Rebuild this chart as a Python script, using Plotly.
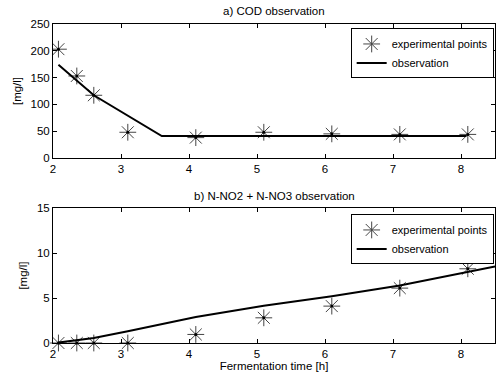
import plotly.graph_objects as go

# a) COD observation
cod_t = [2.08, 2.35, 2.6, 3.1, 4.1, 5.1, 6.1, 7.1, 8.1]
cod_exp = [203, 153, 117, 48, 38, 48, 45, 44, 44]
cod_line_t = [2.08, 2.6, 3.6, 8.08]
cod_line = [174, 117, 41, 41]

# b) N-NO2 + N-NO3 observation
n_t = [2.08, 2.35, 2.6, 3.1, 4.1, 5.1, 6.1, 7.1, 8.1]
n_exp = [0.0, 0.0, 0.0, 0.0, 0.95, 2.8, 4.1, 6.1, 8.25]
n_line_t = [2.08, 2.6, 3.1, 4.1, 5.1, 6.1, 7.1, 8.1, 8.5]
n_line = [0.05, 0.55, 1.3, 2.9, 4.15, 5.2, 6.4, 7.9, 8.5]

x_ticks = [2, 3, 4, 5, 6, 7, 8]
cod_ticks = [0, 50, 100, 150, 200, 250]
n_ticks = [0, 5, 10, 15]

FONT = "Liberation Sans, Arial, sans-serif"
fs = 11.5
lfs = 11

fig = go.Figure()

star = dict(symbol="asterisk-open", size=14, color="#444",
            line=dict(color="#444", width=1))

fig.add_trace(go.Scatter(x=cod_t, y=cod_exp, mode="markers", marker=star,
                         name="experimental points", xaxis="x", yaxis="y",
                         legend="legend"))
fig.add_trace(go.Scatter(x=cod_t, y=cod_exp, mode="markers",
                         marker=dict(symbol="circle", size=3, color="black"),
                         showlegend=False, xaxis="x", yaxis="y", hoverinfo="skip"))
fig.add_trace(go.Scatter(x=cod_line_t, y=cod_line, mode="lines",
                         line=dict(color="black", width=2),
                         name="observation", xaxis="x", yaxis="y",
                         legend="legend"))

fig.add_trace(go.Scatter(x=n_t, y=n_exp, mode="markers", marker=star,
                         name="experimental points", xaxis="x2", yaxis="y2",
                         legend="legend2", cliponaxis=False))
fig.add_trace(go.Scatter(x=n_t, y=n_exp, mode="markers",
                         marker=dict(symbol="circle", size=3, color="black"),
                         showlegend=False, xaxis="x2", yaxis="y2", hoverinfo="skip",
                         cliponaxis=False))
fig.add_trace(go.Scatter(x=n_line_t, y=n_line, mode="lines",
                         line=dict(color="black", width=2),
                         name="observation", xaxis="x2", yaxis="y2",
                         legend="legend2"))

axis_common = dict(showgrid=False, zeroline=False, showline=True, linecolor="black",
                   linewidth=1, mirror="ticks", ticks="inside", ticklen=4,
                   tickcolor="black", automargin=False,
                   tickfont=dict(family=FONT, size=fs, color="black"))

legend_common = dict(bordercolor="black", borderwidth=1, bgcolor="white",
                     font=dict(family=FONT, size=lfs, color="black"),
                     xanchor="right", yanchor="top", tracegroupgap=0, itemwidth=30)

fig.update_layout(
    width=497, height=379,
    margin=dict(l=53, r=2, t=24, b=36),
    paper_bgcolor="white", plot_bgcolor="white",
    font=dict(family=FONT, size=fs, color="black"),
    xaxis=dict(domain=[0, 1], range=[2, 8.5], tickvals=x_ticks, anchor="y", **axis_common),
    yaxis=dict(domain=[0.58, 1], range=[0, 250], tickvals=cod_ticks, anchor="x",
               title=dict(text="[mg/l]", standoff=6, font=dict(family=FONT, size=fs)),
               **axis_common),
    xaxis2=dict(domain=[0, 1], range=[2, 8.5], tickvals=x_ticks, anchor="y2",
                title=dict(text="Fermentation time [h]", standoff=2,
                           font=dict(family=FONT, size=fs)),
                **axis_common),
    yaxis2=dict(domain=[0, 0.423], range=[0, 15], tickvals=n_ticks, anchor="x2",
                title=dict(text="[mg/l]", standoff=6, font=dict(family=FONT, size=fs)),
                **axis_common),
    legend=dict(x=0.997, y=0.986, **legend_common),
    legend2=dict(x=0.997, y=0.403, **legend_common),
    annotations=[
        dict(text="a) COD observation", x=0.5, y=1, xref="paper", yref="paper",
             xanchor="center", yanchor="bottom", yshift=5, showarrow=False,
             font=dict(family=FONT, size=fs)),
        dict(text="b) N-NO2 + N-NO3 observation", x=0.5, y=0.423, xref="paper",
             yref="paper", xanchor="center", yanchor="bottom", yshift=4,
             showarrow=False, font=dict(family=FONT, size=fs)),
    ],
)

fig.write_html("out.html", config={"displayModeBar": False},
               post_script="document.body.style.margin='0';document.body.style.padding='0';")
